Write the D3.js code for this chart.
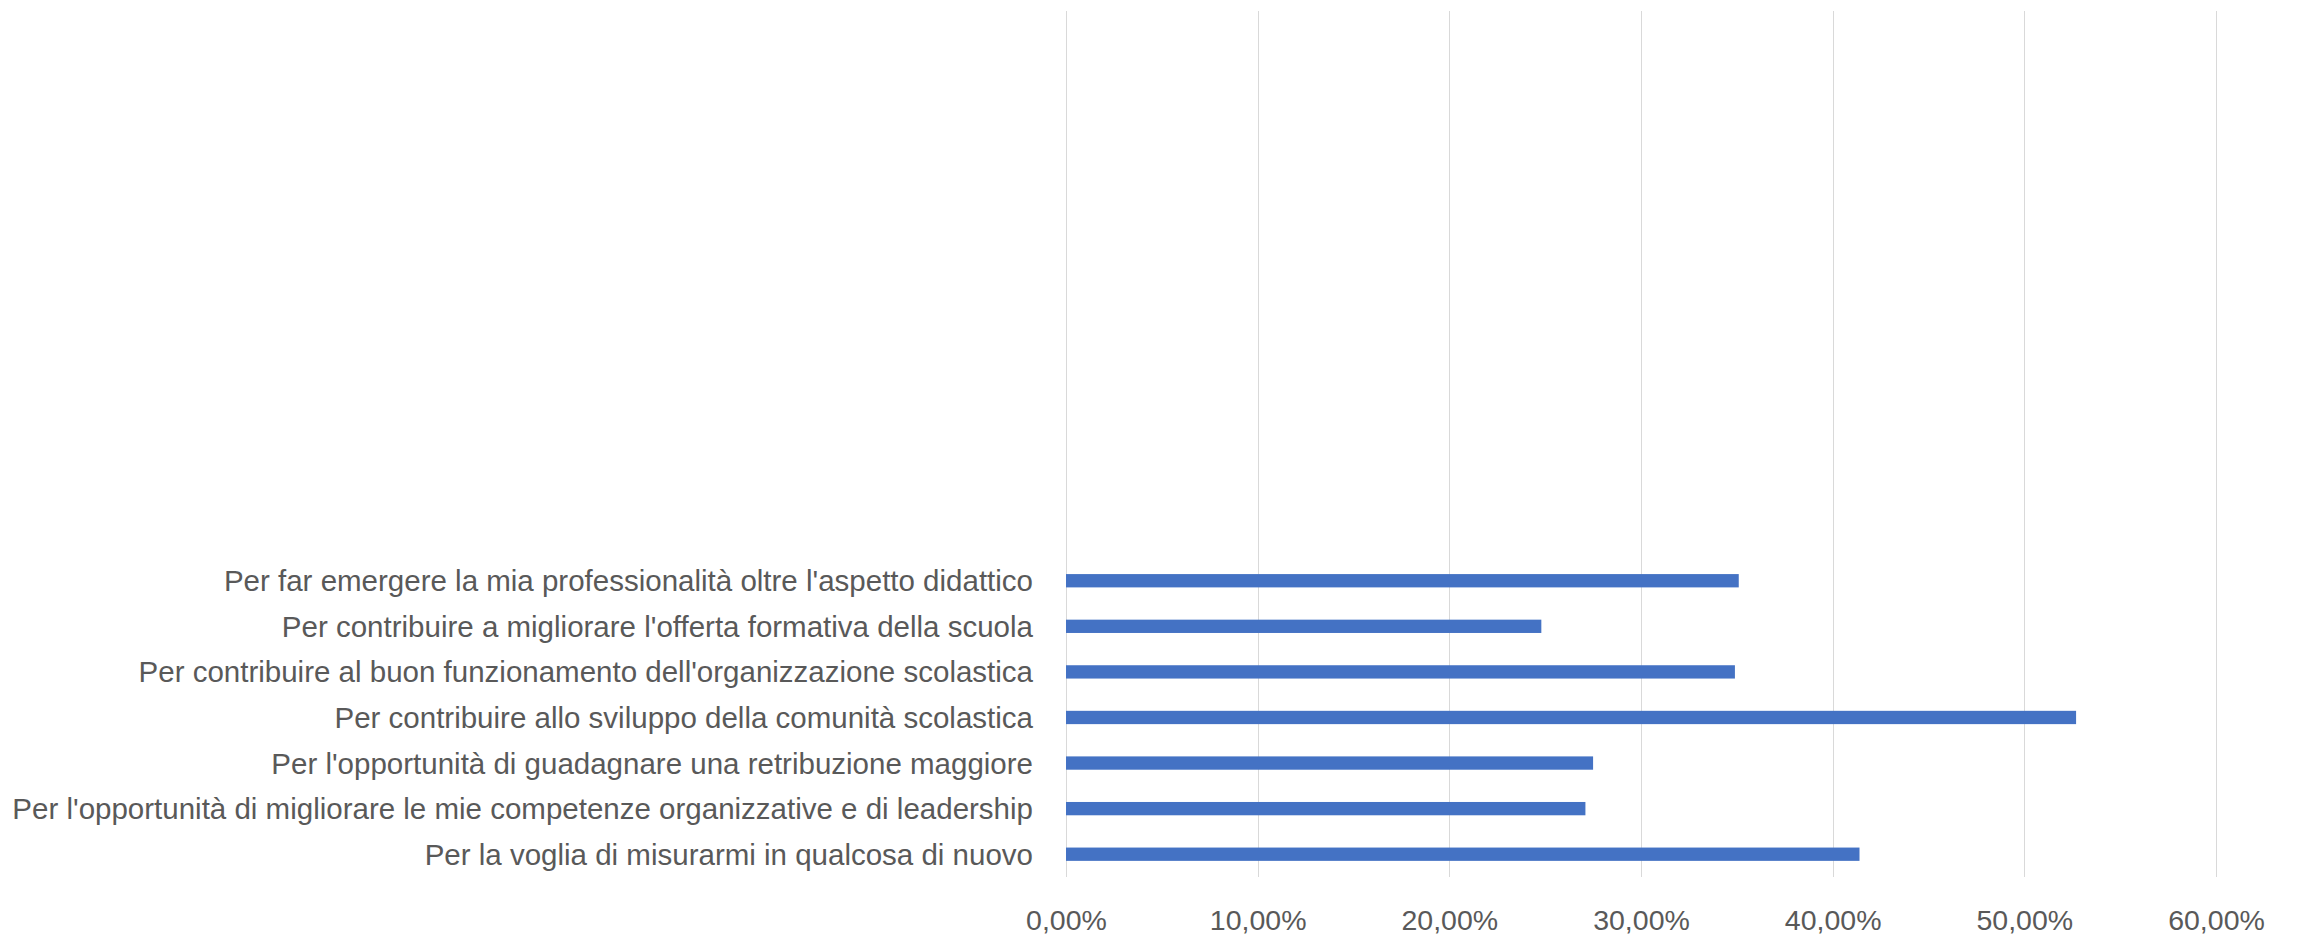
<!DOCTYPE html>
<html>
<head>
<meta charset="utf-8">
<script src="https://cdn.jsdelivr.net/npm/d3@7"></script>
<style>
  html, body { margin: 0; padding: 0; background: #fff; }
  svg { display: block; }
  text { font-family: "Liberation Sans", Arial, sans-serif; fill: #595959; }
</style>
</head>
<body>
<svg id="chart" width="2297" height="935"></svg>
<script>
// Categories, bottom to top as drawn in the chart
const categories = [
  "Per la voglia di misurarmi in qualcosa di nuovo",
  "Per l'opportunità di migliorare le mie competenze organizzative e di leadership",
  "Per l'opportunità di guadagnare una retribuzione maggiore",
  "Per contribuire allo sviluppo della comunità scolastica",
  "Per contribuire al buon funzionamento dell'organizzazione scolastica",
  "Per contribuire a migliorare l'offerta formativa della scuola",
  "Per far emergere la mia professionalità oltre l'aspetto didattico"
];
const values = [0.414, 0.271, 0.275, 0.527, 0.349, 0.248, 0.351];
// Empty category slots above the data (the source axis has blank rows)
const emptySlots = 12;
const tickValues = [0, 0.1, 0.2, 0.3, 0.4, 0.5, 0.6];

const svg = d3.select("#chart");
const margin = { left: 1066, right: 81, top: 11, bottom: 58 };
const W = 2297, H = 935;

const locale = d3.formatLocale({ decimal: ",", thousands: ".", grouping: [3], currency: ["", "€"] });
const fmt = locale.format(".2%");

const x = d3.scaleLinear().domain([0, 0.6]).range([margin.left, W - margin.right]);
const slots = d3.range(categories.length + emptySlots); // 0 = bottom
const y = d3.scaleBand().domain(slots).range([H - margin.bottom, margin.top])
  .paddingInner(0.708).paddingOuter(0.354);

// gridlines
svg.append("g")
  .selectAll("line")
  .data(tickValues)
  .join("line")
  .attr("x1", d => Math.round(x(d)) + 0.5)
  .attr("x2", d => Math.round(x(d)) + 0.5)
  .attr("y1", margin.top)
  .attr("y2", H - margin.bottom)
  .attr("stroke", "#D9D9D9")
  .attr("stroke-width", 1);

// bars
svg.append("g")
  .selectAll("rect")
  .data(values)
  .join("rect")
  .attr("x", x(0))
  .attr("y", (d, i) => y(i))
  .attr("width", d => x(d) - x(0))
  .attr("height", y.bandwidth())
  .attr("fill", "#4472C4");

// category labels
svg.append("g")
  .selectAll("text")
  .data(categories)
  .join("text")
  .attr("x", x(0) - 33)
  .attr("y", (d, i) => y(i) + y.bandwidth() / 2)
  .attr("text-anchor", "end")
  .attr("dominant-baseline", "central")
  .attr("font-size", 29.5)
  .text(d => d);

// x axis tick labels
const xAxis = d3.axisBottom(x).tickValues(tickValues).tickFormat(fmt).tickSize(0).tickPadding(0);
const gx = svg.append("g")
  .attr("transform", `translate(0, ${H - margin.bottom})`)
  .call(xAxis);
gx.select(".domain").remove();
gx.selectAll("text")
  .attr("y", 43)
  .attr("dy", null)
  .attr("dominant-baseline", "central")
  .attr("font-size", 28.5)
  .attr("font-family", "\"Liberation Sans\", Arial, sans-serif")
  .attr("fill", "#595959");
</script>
</body>
</html>
